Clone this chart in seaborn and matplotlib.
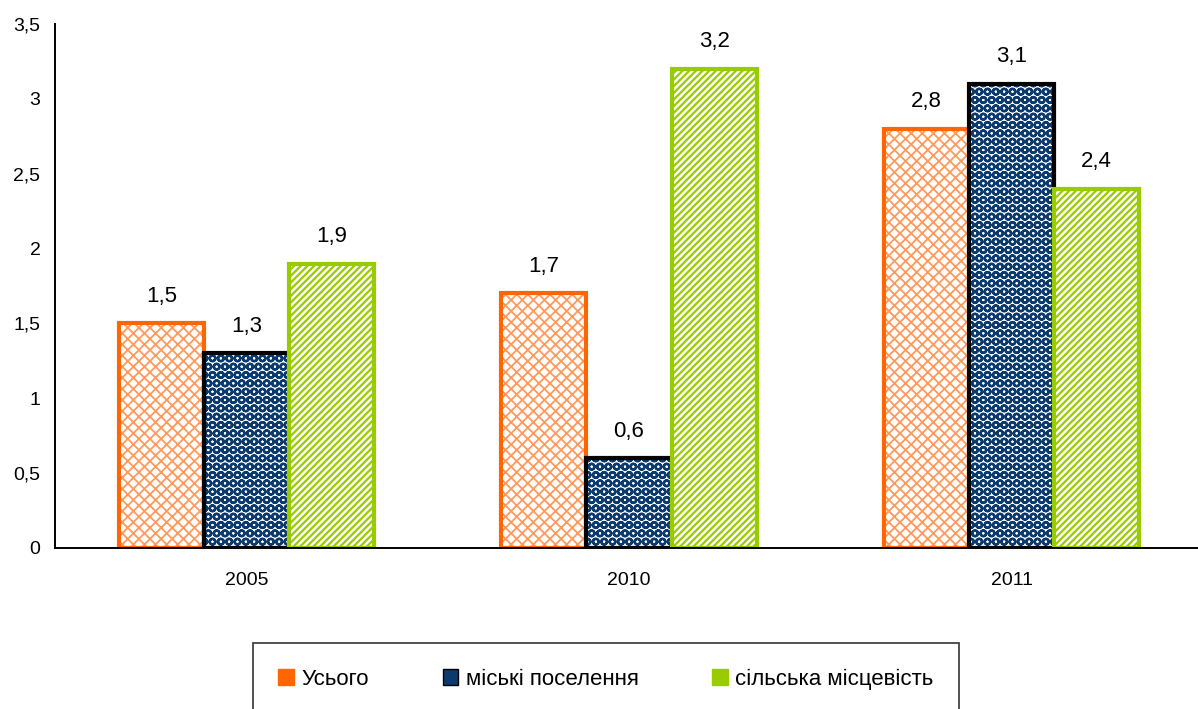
import matplotlib
matplotlib.use("Agg")
import matplotlib.pyplot as plt
import matplotlib.colors as mcolors
from matplotlib.patches import Patch
from matplotlib.ticker import FixedLocator, FuncFormatter
import seaborn as sns
import pandas as pd

years = ["2005", "2010", "2011"]
series = ["Усього", "міські поселення", "сільська місцевість"]
total = [1.5, 1.7, 2.8]
urban = [1.3, 0.6, 3.1]
rural = [1.9, 3.2, 2.4]

sns.set_theme(style="white")
plt.rcParams["font.family"] = ["Liberation Sans", "DejaVu Sans"]
plt.rcParams["hatch.linewidth"] = 1.4
plt.rcParams["text.color"] = "black"
plt.rcParams["xtick.color"] = "black"
plt.rcParams["ytick.color"] = "black"

rows = []
for name, vals in zip(series, [total, urban, rural]):
    for y, v in zip(years, vals):
        rows.append({"year": y, "series": name, "value": v})
df = pd.DataFrame(rows)

W, H = 1198, 709
fig = plt.figure(figsize=(W / 100, H / 100), dpi=100)
ax = fig.add_axes([55 / W, 1 - 548 / H, (1203 - 55) / W, (548 - 24) / H])

NAVY = "#0B3A6E"
styles = {
    "Усього": dict(face="white", edge="#FF6600", hatch="xxx", hcol="#FF9A5C", hlw=1.3),
    "міські поселення": dict(face="white", edge="black", hatch="OO", hcol=NAVY, hlw=1.7),
    "сільська місцевість": dict(face="white", edge="#99CC00", hatch="/////", hcol="#99CC00", hlw=1.6),
}
palette = {s: styles[s]["edge"] for s in series}

sns.barplot(data=df, x="year", y="value", hue="series", order=years,
            hue_order=series, palette=palette, width=0.667, ax=ax,
            legend=False, errorbar=None)

for container, name in zip(ax.containers, series):
    st = styles[name]
    for bar in container:
        bar.set_facecolor(st["face"])
        bar.set_edgecolor(st["edge"])
        bar.set_linewidth(3)
        bar.set_hatch(st["hatch"])
        bar._hatch_color = mcolors.to_rgba(st["hcol"])
        bar._hatch_linewidth = st["hlw"]
    labels = [f"{v:.1f}".replace(".", ",") for v in container.datavalues]
    ax.bar_label(container, labels=labels, padding=12, fontsize=16)

ax.set_xlim(-0.5, 2.5)
ax.set_ylim(0, 3.5)
ax.set_yticks([0, 0.5, 1, 1.5, 2, 2.5, 3, 3.5])
ax.yaxis.set_major_formatter(FuncFormatter(lambda v, p: (f"{v:g}").replace(".", ",")))
ax.set_xlabel("")
ax.set_ylabel("")
ax.xaxis.set_minor_locator(FixedLocator([-0.5, 0.5, 1.5, 2.5]))
ax.tick_params(axis="x", which="major", length=0, pad=17, labelsize=14)
ax.tick_params(axis="x", which="minor", length=4.5, width=1, direction="out", color="black")
ax.tick_params(axis="y", length=4.5, width=1, direction="out", color="black", labelsize=14, pad=6)
for s in ["top", "right"]:
    ax.spines[s].set_visible(False)
for s in ["left", "bottom"]:
    ax.spines[s].set_color("black")
    ax.spines[s].set_linewidth(1.4)
ax.spines["bottom"].set_zorder(5)

handles = []
for name in series:
    st = styles[name]
    fc = NAVY if name == "міські поселення" else st["edge"]
    handles.append(Patch(facecolor=fc, edgecolor=st["edge"], linewidth=1, label=name))
leg = fig.legend(handles=handles, loc="upper center",
                 bbox_to_anchor=(606 / W, 1 - 643 / H), ncol=3, fontsize=16,
                 frameon=True, fancybox=False, edgecolor="black",
                 handlelength=0.7, handleheight=0.7, handletextpad=0.35,
                 columnspacing=3.3, borderpad=1.15, borderaxespad=0)
leg.get_frame().set_linewidth(1.2)

fig.savefig("out.png", dpi=100)
